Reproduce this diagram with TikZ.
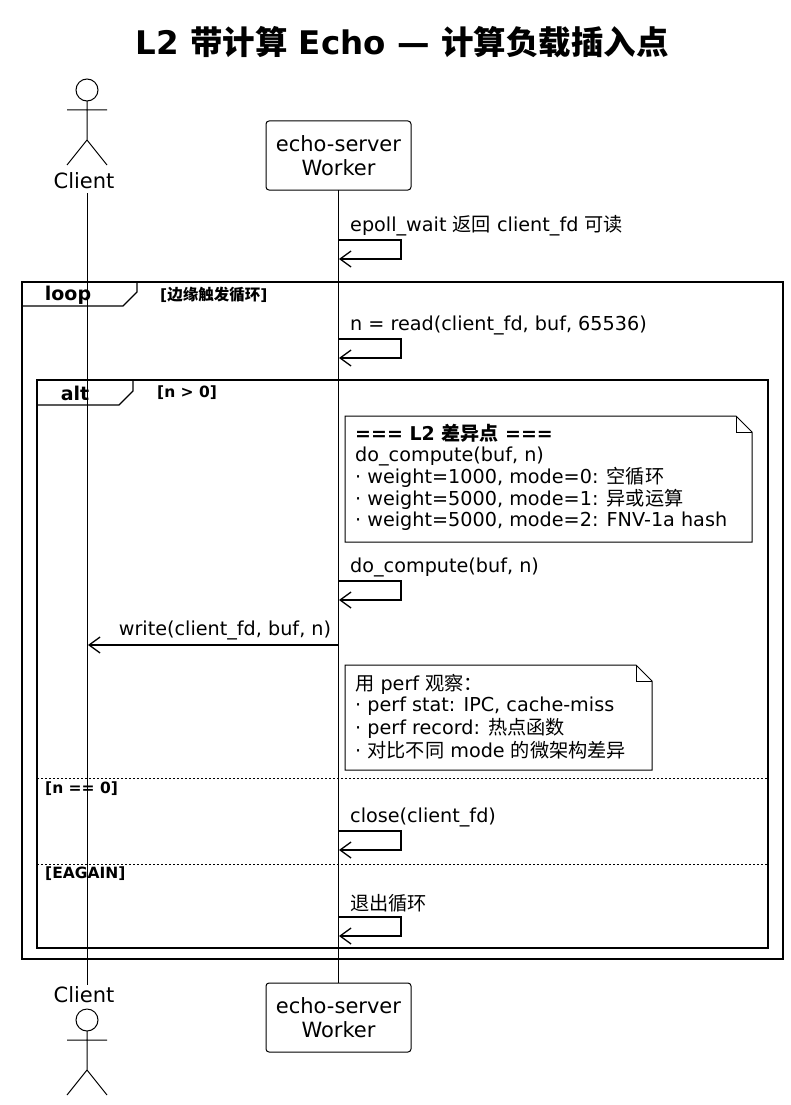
\documentclass[tikz,border=0pt]{standalone}
\usepackage{fontspec}
\usetikzlibrary{arrows.meta}
\setmainfont{DejaVu Sans}
\newfontfamily\cjk{Noto Sans CJK SC}
\newcommand{\C}[1]{{\cjk #1}}
\begin{document}
\begin{tikzpicture}[x=1pt,y=-1pt,
  txt/.style={anchor=west,inner sep=0pt,font=\fontsize{19.2}{22}\selectfont},
  grd/.style={anchor=west,inner sep=0pt,font=\bfseries\fontsize{15.5}{18}\selectfont},
  msg/.style={-{Straight Barb[length=11pt,width=16pt,line width=1.3pt]},line width=1.2pt},
  box/.style={draw,rounded corners=3pt,line width=1pt,minimum width=145pt,minimum height=69pt,align=center,font=\fontsize{21}{24}\selectfont},
  life/.style={line width=0.9pt},
  frm/.style={line width=1.3pt}]
\useasboundingbox (0,0) rectangle (790,1105);
\node[font=\bfseries\fontsize{32.5}{36}\selectfont] (title) at (402,42) {L2 \C{带计算} Echo — \C{计算负载插入点}};
% lifelines
\coordinate (c1) at (87,193); \coordinate (c2) at (87,985);
\coordinate (w1) at (338,190); \coordinate (w2) at (338,983);
\draw[life] (c1) -- (c2); \draw[life] (w1) -- (w2);
% actors
\foreach \y in {90, 1020}{
  \draw[line width=1pt] (87,\y) circle (11);
  \draw[line width=1pt] (87,\y+11) -- (87,\y+50) (67,\y+20) -- (107,\y+20) (67,\y+75) -- (87,\y+50) -- (107,\y+75);
}
\node[font=\fontsize{21}{24}\selectfont] (cl1) at (84,181) {Client};
\node[font=\fontsize{21}{24}\selectfont] (cl2) at (84,995) {Client};
\node[box] (wt) at (338.5,155.5) {echo-server\\Worker};
\node[box] (wb) at (338.5,1017.5) {echo-server\\Worker};
% self messages
\foreach \ly/\t in {226/{epoll\_wait \C{返回} client\_fd \C{可读}}, 325/{n = read(client\_fd, buf, 65536)}, 567/{do\_compute(buf, n)}, 817/{close(client\_fd)}, 903/{\C{退出循环}}}{
  \node[txt] at (350,\ly) {\t};
  \draw[msg] (338,\ly+14) -- (401,\ly+14) -- (401,\ly+33) -- (339,\ly+33);
}
% loop frame
\draw[frm] (22,282) rectangle (783,959);
\draw[frm] (22,306) -- (123,306) -- (137,292) -- (137,282);
\node[font=\bfseries\fontsize{19}{22}\selectfont] at (68,295) {loop};
\node[grd] at (160,295) {[\C{边缘触发循环}]};
% alt frame
\draw[frm] (37,380) rectangle (768,948);
\draw[frm] (37,405) -- (119,405) -- (133,391) -- (133,380);
\node[font=\bfseries\fontsize{19}{22}\selectfont] at (75,393) {alt};
\node[grd] at (157,393) {[n > 0]};
\draw[dash pattern=on 2pt off 2pt,line width=0.9pt] (37,778) -- (768,778);
\node[grd] at (45,789) {[n == 0]};
\draw[dash pattern=on 2pt off 2pt,line width=0.9pt] (37,864) -- (768,864);
\node[grd] at (45,874) {[EAGAIN]};
% note 1
\draw[line width=1pt,fill=white] (345,416) -- (736,416) -- (752,432) -- (752,542) -- (345,542) -- cycle;
\draw[line width=1pt] (736,416) -- (736,432) -- (752,432);
\node[txt,font=\bfseries\fontsize{19}{22}\selectfont] at (355,433) {=== L2 \C{差异点} ===};
\node[txt] at (355,456) {do\_compute(buf, n)};
\node[txt] at (355,477) {· weight=1000, mode=0: \C{空循环}};
\node[txt] at (355,499) {· weight=5000, mode=1: \C{异或运算}};
\node[txt] at (355,521) {· weight=5000, mode=2: FNV-1a hash};
% write
\node[txt,anchor=center] (wl) at (225,630) {write(client\_fd, buf, n)};
\draw[msg] (338,645) -- (88,645);
% note 2
\draw[line width=1pt,fill=white] (345,665) -- (636,665) -- (652,681) -- (652,770) -- (345,770) -- cycle;
\draw[line width=1pt] (636,665) -- (636,681) -- (652,681);
\node[txt] at (355,684) {\C{用} perf \C{观察：}};
\node[txt] at (355,706) {· perf stat: IPC, cache-miss};
\node[txt] at (355,728) {· perf record: \C{热点函数}};
\node[txt] at (355,750) {· \C{对比不同} mode \C{的微架构差异}};
\end{tikzpicture}
\end{document}
